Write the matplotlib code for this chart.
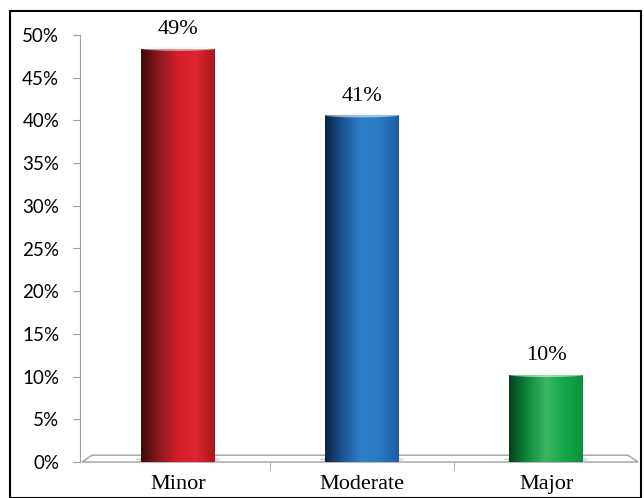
import numpy as np
import matplotlib
matplotlib.use("Agg")
import matplotlib.pyplot as plt
from matplotlib.colors import LinearSegmentedColormap
from matplotlib.patches import Polygon, Rectangle, Ellipse

categories = ["Minor", "Moderate", "Major"]
values = [48.4, 40.6, 10.2]
labels = ["49%", "41%", "10%"]
yticks = [0, 5, 10, 15, 20, 25, 30, 35, 40, 45, 50]

# gradient stops for the cylinder look (left -> right)
grads = [
    ["#3e0a0c", "#8e1a1f", "#d41f28", "#dc2530", "#a8191f"],
    ["#0b2446", "#1d5698", "#2f80c8", "#2a78c0", "#1b5ea6"],
    ["#083d1e", "#0d8a3c", "#3db562", "#14a84a", "#0b8f3c"],
]

W, H = 644, 498
fig = plt.figure(figsize=(W / 100, H / 100), dpi=100)
ax = fig.add_axes([80 / W, 1 - 462 / H, (638 - 80) / W, (462 - 35) / H])

ax.set_xlim(-0.533, 2.5)
ax.set_ylim(0, 50)

bw = 0.4
bars = ax.bar(range(len(values)), values, width=bw, color="none", zorder=3)
for i, b in enumerate(bars):
    cmap = LinearSegmentedColormap.from_list("g%d" % i, grads[i])
    img = cmap(np.linspace(0, 1, 200))[None, :, :]
    x0 = b.get_x()
    im = ax.imshow(img, extent=(x0, x0 + bw, 0, values[i]), aspect="auto", zorder=3)
    im.set_clip_path(b)
    # light rim on top and soft shadow at the base
    ax.add_patch(Ellipse((i, values[i]), bw, 0.5, facecolor="#f2f2f2", alpha=0.6,
                         edgecolor="none", zorder=4))
    ax.add_patch(Ellipse((i, 0.3), bw * 1.15, 0.7, facecolor="#b0b0b0", alpha=0.5,
                         edgecolor="none", zorder=2))
    ax.annotate(labels[i], (i, values[i]), xytext=(0, 7), textcoords="offset points",
                ha="center", va="bottom", fontsize=16, family="Liberation Serif")

# floor of the 3d plot
floor = Polygon([(-0.522, 0), (-0.468, 0.8), (2.445, 0.8), (2.5, 0)], closed=True,
                facecolor="white", edgecolor="#a0a0a0", lw=1.0, zorder=1, clip_on=False)
ax.add_patch(floor)

for s in ["top", "right", "bottom"]:
    ax.spines[s].set_visible(False)
ax.spines["left"].set_color("#a0a0a0")

ax.set_yticks(yticks)
ax.set_yticklabels(["%d%%" % t for t in yticks], fontsize=13.5, family="Lato")
ax.tick_params(axis="y", colors="#a0a0a0", length=5, pad=10, labelcolor="black")

ax.set_xticks(range(len(categories)))
ax.set_xticklabels(categories, fontsize=16, family="Liberation Serif")
ax.tick_params(axis="x", which="major", length=0, pad=9)
ax.set_xticks([0.5, 1.5], minor=True)
ax.tick_params(axis="x", which="minor", length=6, color="#a0a0a0")

# outer frame
fig.patches.append(Rectangle((10 / W, 0), (641 - 10) / W, 1 - 11 / H, transform=fig.transFigure,
                             fill=False, edgecolor="black", lw=1.5))

fig.savefig("out.png", dpi=100)
